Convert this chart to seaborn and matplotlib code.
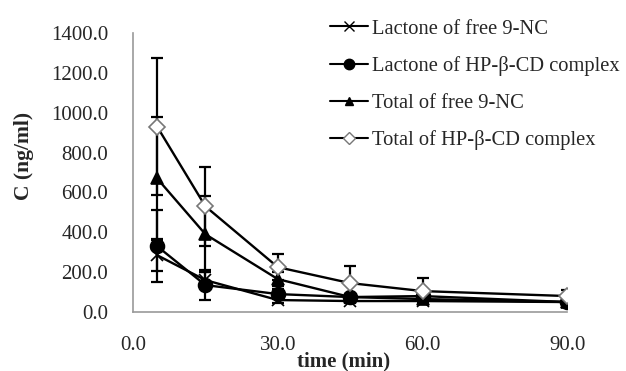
import matplotlib
matplotlib.use("Agg")
import matplotlib.pyplot as plt
import seaborn as sns
import pandas as pd
import numpy as np

time = [5, 15, 30, 45, 60, 90]
series_names = ["Lactone of free 9-NC", "Lactone of HP-\u03b2-CD complex",
                "Total of free 9-NC", "Total of HP-\u03b2-CD complex"]
lac_free = [285, 160, 60, 55, 55, 50]
lac_free_err = [80, 40, 15, 10, 10, 8]
lac_hp = [330, 135, 90, 75, 80, 50]
lac_hp_err = [180, 75, 25, 15, 15, 10]
tot_free = [670, 390, 165, 75, 65, 50]
tot_free_err = [310, 190, 35, 15, 15, 10]
tot_hp = [930, 530, 225, 145, 105, 80]
tot_hp_err = [345, 200, 65, 85, 65, 30]

xticks = [0.0, 30.0, 60.0, 90.0]
yticks = [0, 200, 400, 600, 800, 1000, 1200, 1400]

sns.set_theme(style="white")
plt.rcParams['font.family'] = ['Liberation Serif', 'DejaVu Serif']

fig = plt.figure(figsize=(6.26, 3.71), dpi=100)
ax = fig.add_axes([0.2125, 0.159, 0.694, 0.752])

vals = [lac_free, lac_hp, tot_free, tot_hp]
errs = [lac_free_err, lac_hp_err, tot_free_err, tot_hp_err]
markers = ["x", "o", "^", "D"]
msizes = [9, 10, 8, 8]
mfcs = ["black", "black", "black", "white"]
mecs = ["black", "black", "black", "#777777"]

frames = []
for name, v in zip(series_names, vals):
    frames.append(pd.DataFrame({"time": time, "C": v, "series": name}))
df = pd.concat(frames, ignore_index=True)

handles = []
for name, v, e, m, ms, fc, ec in zip(series_names, vals, errs, markers, msizes, mfcs, mecs):
    ax.errorbar(time, v, yerr=e, fmt="none", ecolor="black", elinewidth=1.6,
                capsize=4, capthick=1.6, zorder=2)
    sub = df[df["series"] == name]
    sns.lineplot(data=sub, x="time", y="C", ax=ax, color="black", linewidth=1.7,
                 marker=m, markersize=ms, markerfacecolor=fc,
                 markeredgecolor=ec, markeredgewidth=1.2, legend=False, zorder=3)
    handles.append(plt.Line2D([], [], color="black", linewidth=1.5, marker=m,
                              markersize=ms * 0.75, markerfacecolor=fc,
                              markeredgecolor=ec, markeredgewidth=1.0))

ax.set_xlim(0, 90)
ax.set_ylim(0, 1400)
ax.set_xticks(xticks)
ax.set_xticklabels([f"{t:.1f}" for t in xticks], fontsize=15)
ax.set_yticks(yticks)
ax.set_yticklabels([f"{t:.1f}" for t in yticks], fontsize=15)
ax.tick_params(axis="x", length=0, pad=17)
ax.tick_params(axis="y", length=0, pad=18)
for s in ["top", "right"]:
    ax.spines[s].set_visible(False)
for s in ["left", "bottom"]:
    ax.spines[s].set_color("#999999")
    ax.spines[s].set_linewidth(1.2)
ax.set_xlabel("time (min)", fontsize=15, fontweight="bold")
ax.xaxis.set_label_coords(0.484, -0.14)
ax.set_ylabel("C (ng/ml)", fontsize=15.5, fontweight="bold")
ax.yaxis.set_label_coords(-0.228, 0.56)

fig.legend(handles, series_names, loc="upper left", bbox_to_anchor=(0.497, 0.998),
           frameon=False, fontsize=14.8, handlelength=1.85, labelspacing=0.85,
           handletextpad=0.2)

fig.savefig("out.png", dpi=100)
